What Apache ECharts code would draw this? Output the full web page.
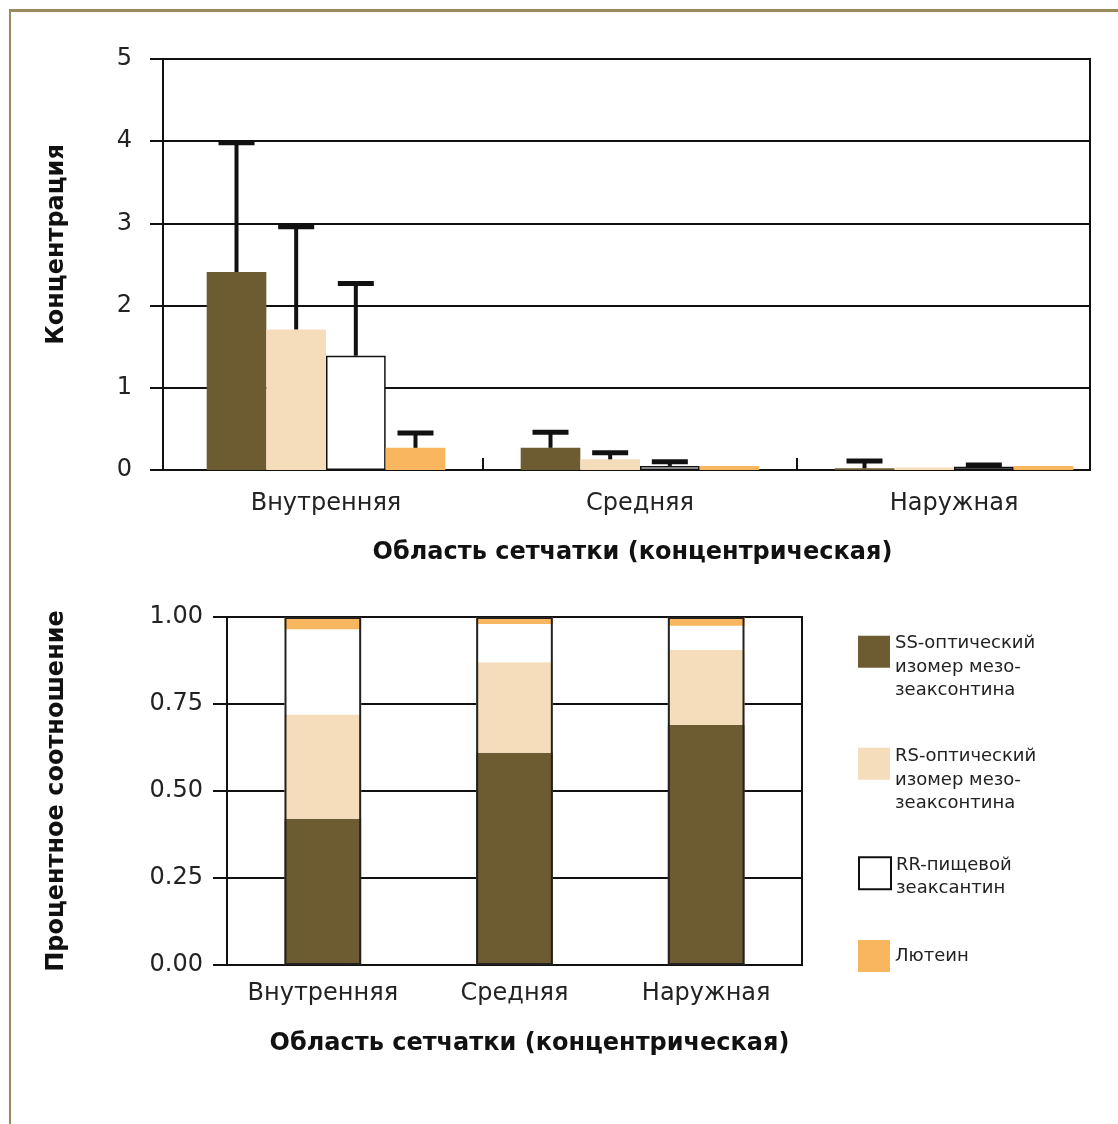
<!DOCTYPE html>
<html>
<head>
<meta charset="utf-8">
<script src="https://cdn.jsdelivr.net/npm/echarts@6/dist/echarts.min.js"></script>
<style>
html,body{margin:0;padding:0;background:#fff;}
#wrap{position:relative;width:1118px;height:1124px;}
#chart{width:1118px;height:1124px;}
#frame{position:absolute;left:9px;top:9px;right:0;bottom:0;border-top:3px solid #9b8a5e;border-left:2px solid #9b8a5e;pointer-events:none;}
</style>
</head>
<body>
<div id="wrap"><div id="chart"></div><div id="frame"></div></div>
<script>
// ---- data ----
var categories = ['Внутренняя', 'Средняя', 'Наружная'];
var seriesNames = [
  'SS-оптический\nизомер мезо-\nзеаксонтина',
  'RS-оптический\nизомер мезо-\nзеаксонтина',
  'RR-пищевой\nзеаксантин',
  'Лютеин'
];
// top chart: concentration
var concSS = [2.41, 0.27, 0.02];
var concRS = [1.71, 0.13, 0.03];
var concRR = [1.39, 0.05, 0.04];
var concL  = [0.27, 0.05, 0.05];
// upper end of error bars (null = none)
var errSS = [3.98, 0.46, 0.11];
var errRS = [2.96, 0.21, null];
var errRR = [2.27, 0.10, 0.06];
var errL  = [0.45, null, null];
// bottom chart: proportions
var propSS = [0.42, 0.61, 0.69];
var propRS = [0.30, 0.26, 0.215];
var propRR = [0.245, 0.11, 0.07];
var propL  = [0.035, 0.02, 0.025];
var propTotal = [1, 1, 1];

var colors = ['#6d5b31', '#f5ddbb', '#ffffff', '#f8b65e'];
var GAP = 0.24;

var concAll = [concSS, concRS, concRR, concL];
var errAll = [errSS, errRS, errRR, errL];
var errData = [];
for (var s = 0; s < 4; s++) {
  for (var c = 0; c < categories.length; c++) {
    if (errAll[s][c] != null) errData.push([c, s, concAll[s][c], errAll[s][c]]);
  }
}

var FONT = '"DejaVu Sans", "Liberation Sans", sans-serif';
var axisCol = '#111';

var chart = echarts.init(document.getElementById('chart'), null, {renderer: 'canvas'});

// top bars live on grid 1 (category bands), frame/axes on grid 0
var topSeries = concAll.map(function (arr, i) {
  return {
    type: 'bar', name: seriesNames[i], xAxisIndex: 1, yAxisIndex: 1,
    data: arr, barGap: 0, barCategoryGap: (GAP * 100) + '%',
    itemStyle: i === 2 ? {color: colors[i], borderColor: '#111', borderWidth: 1.5} : {color: colors[i]},
    silent: true
  };
});
var propAll = [propSS, propRS, propRR, propL];
var botSeries = propAll.map(function (arr, i) {
  return {
    type: 'bar', name: seriesNames[i], xAxisIndex: 2, yAxisIndex: 2, stack: 'p',
    data: arr, barWidth: '40%',
    itemStyle: {color: colors[i]}, silent: true
  };
});
botSeries.push({
  type: 'bar', name: 'outline', xAxisIndex: 2, yAxisIndex: 2, data: propTotal,
  barWidth: '40%', barGap: '-100%', z: 5, silent: true,
  itemStyle: {color: 'rgba(0,0,0,0)', borderColor: '#222', borderWidth: 2}
});

var errSeries = {
  type: 'custom', name: 'err', xAxisIndex: 1, yAxisIndex: 1, z: 10, silent: true,
  data: errData,
  encode: {x: 0, y: 3},
  renderItem: function (params, api) {
    var cat = api.value(0), s = api.value(1), v = api.value(2), e = api.value(3);
    var band = api.size([1, 0])[0];
    var groupW = band * (1 - GAP);
    var barW = groupW / 4;
    var top = api.coord([cat, e]);
    var base = api.coord([cat, v]);
    var x = top[0] - groupW / 2 + (s + 0.5) * barW;
    return {
      type: 'group',
      children: [
        {type: 'line', shape: {x1: x, y1: base[1], x2: x, y2: top[1]}, style: {stroke: '#111', lineWidth: 4}},
        {type: 'line', shape: {x1: x - 18, y1: top[1], x2: x + 18, y2: top[1]}, style: {stroke: '#111', lineWidth: 5}}
      ]
    };
  }
};

// spacer: height of an invisible first line that pushes the text down beside the square
function legendFor(i, top, spacer) {
  return {
    data: [seriesNames[i]], left: 858, top: top, orient: 'vertical', padding: 0,
    itemWidth: 32, itemHeight: 32, icon: 'rect', selectedMode: false,
    formatter: function (name) {
      var body = name.split('\n').map(function (l) { return '{t|' + l + '}'; }).join('\n');
      return spacer ? '{s| }\n' + body : body;
    },
    textStyle: {
      fontFamily: FONT, fontSize: 18, color: '#222', lineHeight: 23.5,
      rich: {
        s: {fontSize: 2, lineHeight: spacer || 1, fontFamily: FONT},
        t: {fontSize: 18, lineHeight: 23.5, fontFamily: FONT, color: '#222'}
      }
    }
  };
}

var titleStyle = {fontFamily: FONT, fontSize: 24, fontWeight: 'bold', color: '#111'};

var option = {
  backgroundColor: '#ffffff',
  animation: false,
  legend: [
    legendFor(0, 601, 31),
    legendFor(1, 712, 33),
    legendFor(2, 846, 7.5),
    legendFor(3, 940, 0)
  ],
  grid: [
    {left: 163, top: 59, width: 927, height: 411, show: true, borderColor: axisCol, borderWidth: 2, backgroundColor: 'transparent'},
    {left: 169, top: 59, width: 942, height: 411, show: false},
    {left: 227, top: 617, width: 575, height: 348, show: true, borderColor: axisCol, borderWidth: 2, backgroundColor: 'transparent'},
    // middle band of grid 1: its two edges carry the band-divider ticks of the top chart
    {left: 483, top: 59, width: 314, height: 411, show: false}
  ],
  xAxis: [
    {
      type: 'category', gridIndex: 0, data: categories,
      axisLine: {lineStyle: {color: axisCol, width: 2}},
      axisTick: {show: false}, axisLabel: {show: false},
      name: 'Область сетчатки (концентрическая)', nameLocation: 'middle', nameGap: 71,
      nameTextStyle: Object.assign({padding: [0, 0, 0, 12]}, titleStyle)
    },
    {
      type: 'category', gridIndex: 1, data: categories,
      axisLine: {show: false}, axisTick: {show: false},
      axisLabel: {margin: 22, fontFamily: FONT, fontSize: 24, color: '#222', interval: 0}
    },
    {
      type: 'category', gridIndex: 2, data: categories,
      axisLine: {lineStyle: {color: axisCol, width: 2}},
      axisTick: {inside: false, length: 9, lineStyle: {color: axisCol, width: 2}},
      axisLabel: {margin: 17, fontFamily: FONT, fontSize: 24, color: '#222', interval: 0},
      name: 'Область сетчатки (концентрическая)', nameLocation: 'middle', nameGap: 67,
      nameTextStyle: Object.assign({padding: [0, 0, 0, 30]}, titleStyle)
    },
    {
      type: 'category', gridIndex: 3, data: categories.slice(1, 2),
      axisLine: {show: false}, axisLabel: {show: false},
      axisTick: {show: true, inside: true, length: 12, lineStyle: {color: axisCol, width: 2}}
    }
  ],
  yAxis: [
    {
      type: 'value', gridIndex: 0, min: 0, max: 5, interval: 1,
      axisLine: {show: true, lineStyle: {color: axisCol, width: 2}},
      axisTick: {show: true, inside: false, length: 13, lineStyle: {color: axisCol, width: 2}},
      axisLabel: {margin: 31, fontFamily: FONT, fontSize: 24, color: '#222'},
      splitLine: {show: true, lineStyle: {color: axisCol, width: 2}},
      name: 'Концентрация', nameLocation: 'middle', nameGap: 94, nameRotate: 90,
      nameTextStyle: Object.assign({padding: [0, 0, 0, 40]}, titleStyle)
    },
    {
      type: 'value', gridIndex: 1, min: 0, max: 5, interval: 1, show: false
    },
    {
      type: 'value', gridIndex: 2, min: 0, max: 1, interval: 0.25,
      axisLine: {show: true, lineStyle: {color: axisCol, width: 2}},
      axisTick: {show: true, inside: false, length: 14, lineStyle: {color: axisCol, width: 2}},
      axisLabel: {margin: 24, fontFamily: FONT, fontSize: 24, color: '#222',
        formatter: function (v) { return v.toFixed(2); }},
      splitLine: {show: true, lineStyle: {color: axisCol, width: 2}},
      name: 'Процентное соотношение', nameLocation: 'middle', nameGap: 158, nameRotate: 90,
      nameTextStyle: titleStyle
    },
    {
      type: 'value', gridIndex: 3, min: 0, max: 5, interval: 1, show: false
    }
  ],
  series: topSeries.concat([errSeries]).concat(botSeries)
};
chart.setOption(option);
</script>
</body>
</html>
